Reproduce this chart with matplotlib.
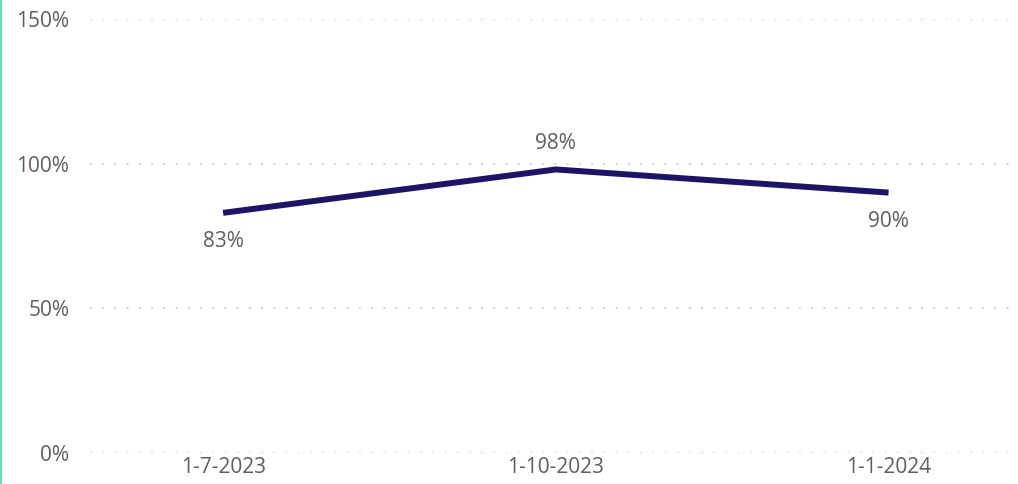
import matplotlib.pyplot as plt
from matplotlib.lines import Line2D

plt.rcParams['font.family'] = ['Open Sans', 'DejaVu Sans']

dates = ['1-7-2023', '1-10-2023', '1-1-2024']
values = [83, 98, 90]
label_pos = ['below', 'above', 'below']
y_ticks = [0, 50, 100, 150]

text_col = '#605e5c'

fig = plt.figure(figsize=(10.18, 4.84), dpi=100)
ax = fig.add_axes([90 / 1018, 31 / 484, 920 / 1018, 434 / 484])

x = list(range(len(dates)))
ax.plot(x, values, color='#1c1464', lw=4.3, solid_capstyle='butt', zorder=3)

for xi, v, pos in zip(x, values, label_pos):
    off = -29 if pos == 'below' else 26
    ax.annotate(f'{v}%', (xi, v), xytext=(0, off), textcoords='offset pixels',
                ha='center', va='center', fontsize=15, color=text_col)

ax.set_xlim(-0.4, 2.365)
ax.set_ylim(0, 150)
ax.set_yticks(y_ticks)
ax.set_yticklabels([f'{t}%' for t in y_ticks])
ax.set_xticks(x)
ax.set_xticklabels(dates)
ax.tick_params(length=0, labelsize=15, labelcolor=text_col)
ax.tick_params(axis='y', pad=15)
ax.tick_params(axis='x', pad=3)
ax.grid(axis='y', color='#c8c8c8', linestyle=(0, (1.2, 6.8)), lw=1.1)
for s in ax.spines.values():
    s.set_visible(False)

fig.add_artist(Line2D([0.001, 0.001], [0, 1], transform=fig.transFigure,
                      color='#5ee0b0', lw=1.5))

fig.savefig('out.png', dpi=100)
